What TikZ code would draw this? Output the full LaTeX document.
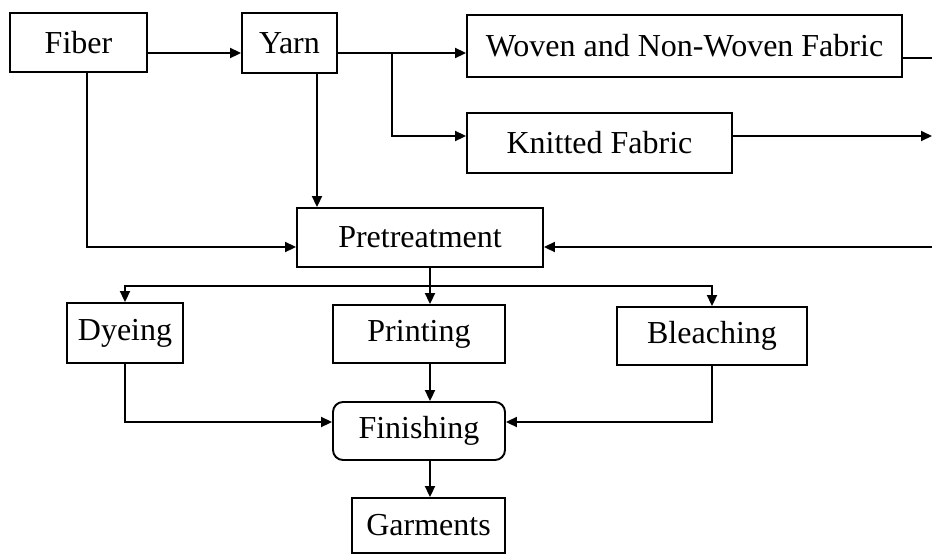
\documentclass[tikz,border=0pt]{standalone}
\usepackage{fontspec}
\setmainfont{Liberation Serif}
\usetikzlibrary{positioning, calc, arrows.meta}

\begin{document}
\begin{tikzpicture}[
  x=1pt, y=-1pt,
  stage/.style={
    draw, line width=1.9pt, fill=white, inner sep=0pt, align=center,
    font=\fontsize{32}{36}\selectfont
  },
  finbox/.style={stage, rounded corners=10pt},
  conn/.style={-{Triangle[length=11pt, width=10pt]}, line width=1.9pt},
  wire/.style={line width=1.9pt}
]
  \useasboundingbox (0,0) rectangle (932,555);

  \node[stage, minimum width=137, minimum height=59] (fiber)  at (78.5,42.5) {Fiber};
  \node[stage, minimum width=95,  minimum height=60] (yarn)   at (289.5,43)  {Yarn};
  \node[stage, minimum width=435, minimum height=62] (woven)  at (684.5,46)  {Woven and Non-Woven Fabric};
  \node[stage, minimum width=265, minimum height=60] (knit)   at (599.5,143) {Knitted Fabric};
  \node[stage, minimum width=246, minimum height=59] (pre)    at (420,237.5) {Pretreatment};
  \node[stage, minimum width=116, minimum height=60] (dye)    at (125,333)   {Dyeing};
  \node[stage, minimum width=172, minimum height=58] (print)  at (419,334)   {Printing};
  \node[stage, minimum width=190, minimum height=58] (bleach) at (712,336)   {Bleaching};
  \node[finbox, minimum width=172, minimum height=58] (finish) at (419,431)  {Finishing};
  \node[stage, minimum width=153, minimum height=55] (garm)   at (428.5,525.5) {Garments};

  % routing levels and columns
  \coordinate (r0) at (0,58);
  \coordinate (r1) at (0,53);
  \coordinate (r2) at (0,136);
  \coordinate (r3) at (0,247);
  \coordinate (r4) at (0,286);
  \coordinate (r5) at (0,422);
  \coordinate (cf) at (87,0);
  \coordinate (cy) at (317,0);
  \coordinate (cm) at (430,0);
  \coordinate (br) at (392,53);
  \coordinate (edge) at (932,0);

  \draw[conn] (fiber.east |- r1) -- (yarn.west |- r1);
  \draw[conn] (yarn.east |- r1) -- (woven.west |- r1);
  \draw[conn] (br) |- (knit.west |- r2);
  \draw[conn] (yarn.south -| cy) -- (pre.north -| cy);
  \draw[conn] (fiber.south -| cf) |- (pre.west |- r3);

  \draw[wire] (woven.east |- r0) -- (edge |- r0);
  \draw[conn] (knit.east |- r2) -- (edge |- r2);
  \draw[conn] (edge |- r3) -- (pre.east |- r3);

  \draw[conn] (pre.south -| cm) -- (print.north -| cm);
  \draw[conn] (cm |- r4) -| (dye);
  \draw[conn] (cm |- r4) -| (bleach);

  \draw[conn] (print.south -| cm) -- (finish.north -| cm);
  \draw[conn] (dye) |- (finish.west |- r5);
  \draw[conn] (bleach) |- (finish.east |- r5);
  \draw[conn] (finish.south -| cm) -- (garm.north -| cm);
\end{tikzpicture}
\end{document}
